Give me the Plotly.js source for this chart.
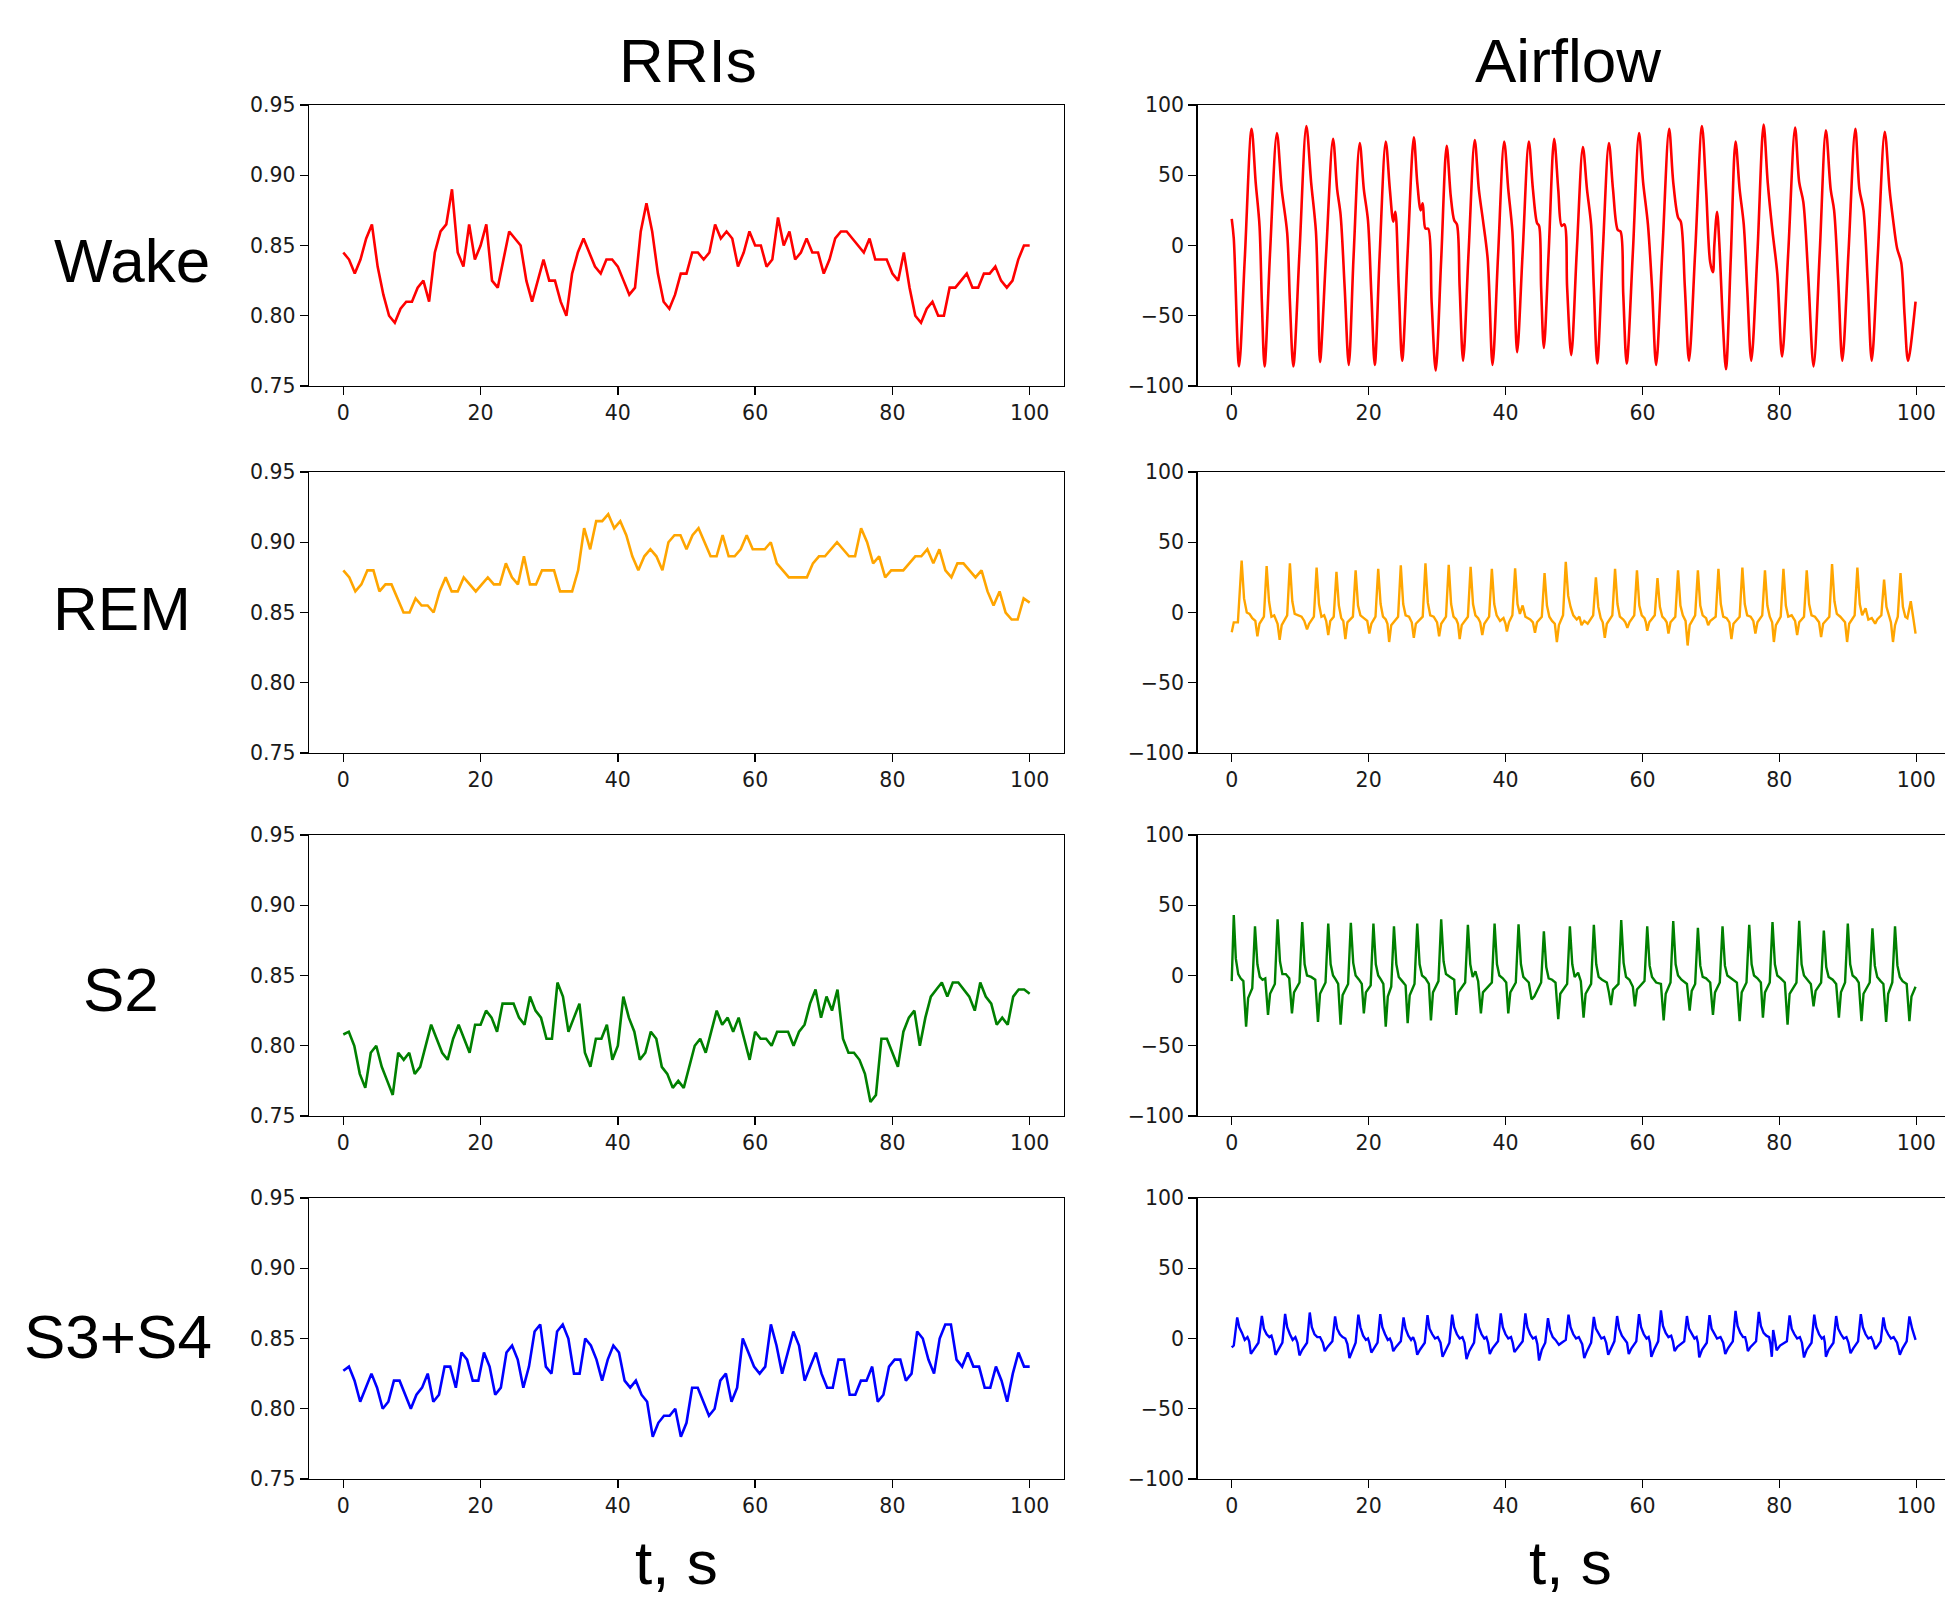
<!DOCTYPE html>
<html>
<head>
<meta charset="utf-8">
<script src="https://cdn.plot.ly/plotly-3.0.1.min.js"></script>
<style>html,body{margin:0;padding:0;background:#fff;}#chart{width:1945px;height:1597px;}</style>
</head>
<body>
<div id="chart"></div>
<script>
// ---------- DATA ----------
const stages = ["Wake", "REM", "S2", "S3+S4"];
const columnTitles = ["RRIs", "Airflow"];
const xLabel = "t, s";
const xTicks = [0, 20, 40, 60, 80, 100];
const rriTicks = [0.75, 0.80, 0.85, 0.90, 0.95];
const airTicks = [-100, -50, 0, 50, 100];

// RR intervals (s), evenly spread over 0..100 s
const rriWake = [0.845,0.84,0.83,0.84,0.855,0.865,0.835,0.815,0.80,0.795,0.805,0.81,0.81,0.82,0.825,0.81,0.845,0.86,0.865,0.89,0.845,0.835,0.865,0.84,0.85,0.865,0.825,0.82,0.84,0.86,0.855,0.85,0.825,0.81,0.825,0.84,0.825,0.825,0.81,0.80,0.83,0.845,0.855,0.845,0.835,0.83,0.84,0.84,0.835,0.825,0.815,0.82,0.86,0.88,0.86,0.83,0.81,0.805,0.815,0.83,0.83,0.845,0.845,0.84,0.845,0.865,0.855,0.86,0.855,0.835,0.845,0.86,0.85,0.85,0.835,0.84,0.87,0.85,0.86,0.84,0.845,0.855,0.845,0.845,0.83,0.84,0.855,0.86,0.86,0.855,0.85,0.845,0.855,0.84,0.84,0.84,0.83,0.825,0.845,0.82,0.80,0.795,0.805,0.81,0.80,0.80,0.82,0.82,0.825,0.83,0.82,0.82,0.83,0.83,0.835,0.825,0.82,0.825,0.84,0.85,0.85];
const rriREM = [0.88,0.875,0.865,0.87,0.88,0.88,0.865,0.87,0.87,0.86,0.85,0.85,0.86,0.855,0.855,0.85,0.865,0.875,0.865,0.865,0.875,0.87,0.865,0.87,0.875,0.87,0.87,0.885,0.875,0.87,0.89,0.87,0.87,0.88,0.88,0.88,0.865,0.865,0.865,0.88,0.91,0.895,0.915,0.915,0.92,0.91,0.915,0.905,0.89,0.88,0.89,0.895,0.89,0.88,0.90,0.905,0.905,0.895,0.905,0.91,0.90,0.89,0.89,0.905,0.89,0.89,0.895,0.905,0.895,0.895,0.895,0.90,0.885,0.88,0.875,0.875,0.875,0.875,0.885,0.89,0.89,0.895,0.90,0.895,0.89,0.89,0.91,0.90,0.885,0.89,0.875,0.88,0.88,0.88,0.885,0.89,0.89,0.895,0.885,0.895,0.88,0.875,0.885,0.885,0.88,0.875,0.88,0.865,0.855,0.865,0.85,0.845,0.845,0.86,0.857];
const rriS2 = [0.808,0.81,0.80,0.78,0.77,0.795,0.80,0.785,0.775,0.765,0.795,0.79,0.795,0.78,0.785,0.80,0.815,0.805,0.795,0.79,0.805,0.815,0.805,0.795,0.815,0.815,0.825,0.82,0.81,0.83,0.83,0.83,0.82,0.815,0.835,0.825,0.82,0.805,0.805,0.845,0.835,0.81,0.82,0.83,0.795,0.785,0.805,0.805,0.815,0.79,0.80,0.835,0.82,0.81,0.79,0.795,0.81,0.805,0.785,0.78,0.77,0.775,0.77,0.785,0.80,0.805,0.795,0.81,0.825,0.815,0.82,0.81,0.82,0.805,0.79,0.81,0.805,0.805,0.80,0.81,0.81,0.81,0.80,0.81,0.815,0.83,0.84,0.82,0.835,0.825,0.84,0.805,0.795,0.795,0.79,0.78,0.76,0.765,0.805,0.805,0.795,0.785,0.81,0.82,0.825,0.80,0.82,0.835,0.84,0.845,0.835,0.845,0.845,0.84,0.835,0.825,0.845,0.835,0.83,0.815,0.82,0.815,0.835,0.84,0.84,0.837];
const rriS34 = [0.827,0.83,0.82,0.805,0.815,0.825,0.815,0.80,0.805,0.82,0.82,0.81,0.80,0.81,0.815,0.825,0.805,0.81,0.83,0.83,0.815,0.84,0.835,0.82,0.82,0.84,0.83,0.81,0.815,0.84,0.845,0.835,0.815,0.83,0.855,0.86,0.83,0.825,0.855,0.86,0.85,0.825,0.825,0.85,0.845,0.835,0.82,0.835,0.845,0.84,0.82,0.815,0.82,0.81,0.805,0.78,0.79,0.795,0.795,0.80,0.78,0.79,0.815,0.815,0.805,0.795,0.80,0.82,0.825,0.805,0.815,0.85,0.84,0.83,0.825,0.83,0.86,0.845,0.825,0.84,0.855,0.845,0.82,0.83,0.84,0.825,0.815,0.815,0.835,0.835,0.81,0.81,0.82,0.82,0.83,0.805,0.81,0.83,0.835,0.835,0.82,0.825,0.855,0.85,0.835,0.825,0.85,0.86,0.86,0.835,0.83,0.84,0.83,0.83,0.815,0.815,0.83,0.82,0.805,0.825,0.84,0.83,0.83];

// Airflow (time s, amplitude)
const airWakeT = [0,0.3,1.07,1.9,2.9,3.5,4.06,4.4,4.8,5.6,6.6,7.3,8.1,8.5,9.0,9.9,10.9,11.6,12.3,12.6,12.9,13.8,14.8,15.4,15.9,16.5,17.1,17.8,18.7,19.3,19.9,20.4,20.9,21.6,22.5,23.1,23.6,23.9,24.4,24.9,25.7,26.6,27.1,27.6,27.9,28.3,28.7,29.2,29.8,30.6,31.4,32.0,32.5,32.9,33.3,33.8,34.6,35.5,36.1,36.7,37.4,38.1,38.9,39.8,40.4,41.0,41.3,41.7,42.5,43.4,44.0,44.6,44.9,45.2,45.6,46.3,47.1,47.7,48.2,48.6,49.0,49.6,50.4,51.3,51.9,52.5,52.9,53.4,54.2,55.1,55.7,56.4,56.8,57.2,57.7,58.6,59.5,60.1,60.8,61.4,62.0,62.9,63.9,64.5,65.2,65.6,66.2,66.8,67.7,68.7,69.3,69.9,70.3,70.5,70.9,71.3,71.7,72.2,72.9,73.6,74.2,74.8,75.3,75.9,76.8,77.7,78.3,79.0,79.7,80.4,81.3,82.3,82.9,83.5,84.2,85.0,85.9,86.8,87.5,88.0,88.6,89.2,90.1,91.1,91.7,92.3,92.9,93.5,94.4,95.4,96.1,96.6,97.2,97.8,98.3,98.8,99.9];
const airWakeV = [19,5,-86,-10,83,45,14,-40,-86,-5,80,40,9,-40,-86,-5,85,45,10,-35,-83,-5,76,40,22,-30,-85,-8,73,40,18,-35,-85,-8,74,40,17,24,-30,-82,-5,77,45,25,30,12,12,-40,-89,-10,71,35,18,15,-30,-82,-5,75,40,18,-10,-85,-8,74,40,10,-30,-76,-5,74,40,16,14,-30,-73,-5,76,40,14,15,-30,-78,-5,70,40,15,-30,-84,-5,73,40,11,10,-35,-84,-5,80,45,15,-30,-85,-5,83,45,20,17,-30,-82,-5,85,40,-12,-19,0,24,-5,-50,-88,-10,74,40,15,-30,-82,-5,86,45,10,-20,-79,-5,84,45,31,-20,-86,-5,82,40,25,-25,-82,-5,83,40,25,-25,-82,-5,81,40,19,-2,-12,-50,-82,-40];

const airREMT = [0,0.3,0.9,1.45,1.8,2.2,2.6,3.0,3.45,3.75,4.05,4.7,5.1,5.45,5.8,6.2,6.7,7.0,7.3,8.1,8.5,8.85,9.2,9.7,10.2,10.6,11.0,11.3,12.0,12.4,12.75,13.1,13.5,13.8,14.1,14.4,14.9,15.3,15.65,16.0,16.3,16.6,16.9,17.7,18.1,18.45,18.8,19.3,19.8,20.1,20.4,21.0,21.4,21.75,22.1,22.5,22.75,23.0,23.3,24.3,24.7,25.05,25.4,25.9,26.3,26.6,26.9,27.9,28.3,28.65,29.0,29.5,30.0,30.3,30.6,31.3,31.7,32.05,32.4,32.8,33.05,33.3,33.6,34.5,34.9,35.25,35.6,36.0,36.3,36.6,36.9,37.6,38.0,38.35,38.7,39.2,39.7,40.0,40.2,40.5,41.0,41.4,41.75,42.1,42.5,42.9,43.6,44.0,44.3,44.6,45.3,45.7,46.05,46.4,46.8,47.2,47.5,47.8,48.4,48.8,49.15,49.5,49.9,50.4,50.8,51.1,51.5,52.0,52.8,53.2,53.55,53.9,54.2,54.5,54.8,55.6,56.0,56.35,56.7,57.2,57.5,57.8,58.1,58.8,59.2,59.55,59.9,60.3,60.5,60.7,61.0,61.8,62.2,62.55,62.9,63.3,63.55,63.8,64.1,64.8,65.2,65.55,65.9,66.3,66.6,66.9,67.7,68.1,68.45,68.8,69.3,69.6,69.9,70.7,71.1,71.45,71.8,72.3,72.7,73.0,73.3,74.2,74.6,74.95,75.3,75.8,76.2,76.5,76.8,77.5,77.9,78.25,78.6,78.95,79.2,79.5,80.2,80.6,80.95,81.3,81.8,82.3,82.6,82.9,83.6,84.0,84.35,84.7,85.2,85.8,86.1,86.4,87.3,87.7,88.05,88.4,88.9,89.6,89.9,90.2,91.0,91.4,91.75,92.1,92.6,93.0,93.5,94.0,94.3,94.9,95.3,95.65,96.0,96.3,96.6,96.9,97.3,97.7,98.05,98.4,98.7,99.2,99.6,99.9];
const airREMV = [-14,-7,-7,37,10,0,-1,-4,-6,-17,-8,-3,33,8,-3,-2,-8,-19.5,-9,-2,35,8,-1,-2,-3,-6,-12,-8,-3,32,6,-3,-2,-6,-16,-6,-3,29,5,-4,-6,-19,-7,-3,30,5,-2,-4,-6,-15,-8,-3,31,6,-3,-5,-8,-21,-9,-3,33.5,6,-2,-3,-7,-18,-8,-3,35,7,-2,-3,-7,-17,-8,-3,34,6,-3,-5,-8,-19,-9,-3,32.5,6,-2,-4,-7,-16,-8,-3,31,6,-2,-6,-4,-8,-13.5,-7,-2,31.5,6,-1,5,-3,-5,-7,-14.5,-7,-3,28,5,-3,-6,-8,-21,-9,-2,36,12,4,-2,-5,-3,-9,-6,-8,-2,25,4,-4,-7,-18,-8,-2,31,6,-3,-5,-7,-11,-7,-2,30,5,-2,-4,-7,-13,-7,-2,24.5,4,-3,-5,-7,-15,-7,-3,30,5,-2,-6,-23.5,-9,-2,30,5,-2,-4,-9,-6,-3,31,6,-3,-4,-7,-19,-8,-3,32,6,-2,-3,-6,-15,-7,-2,30,5,-3,-7,-21,-9,-3,31,5,-3,-2,-6,-16,-7,-3,30,6,-2,-3,-7,-17.5,-8,-3,34.5,8,-1,-3,-7,-21,-8,-2,32,6,-2,3,-5,-4,-8,-5,-2,23.5,4,-3,-7,-21,-9,-3,28,4,-3,-4,8,-5,-15];

const airS2T = [0,0.3,0.6,0.95,1.3,1.7,2.1,2.4,3.0,3.4,3.75,4.1,4.5,4.9,5.3,5.6,6.3,6.7,7.05,7.4,7.9,8.4,8.8,9.1,9.9,10.3,10.65,11.0,11.6,12.2,12.6,12.9,13.7,14.1,14.45,14.8,15.2,15.55,15.9,16.2,17.0,17.4,17.75,18.1,18.6,19.0,19.3,19.6,20.3,20.7,21.05,21.4,21.8,22.15,22.5,22.8,23.3,23.7,24.05,24.4,24.9,25.4,25.7,26.0,26.7,27.1,27.45,27.8,28.3,28.8,29.1,29.4,30.2,30.6,30.95,31.3,31.9,32.5,32.8,33.1,34.1,34.5,34.85,35.2,35.6,36.0,36.4,36.7,38.0,38.4,38.75,39.1,39.6,40.1,40.4,40.7,41.5,41.9,42.25,42.6,43.0,43.4,43.8,44.2,45.2,45.6,45.95,46.3,46.8,47.3,47.7,48.0,49.0,49.4,49.75,50.1,50.6,51.0,51.4,51.7,52.5,52.9,53.25,53.6,54.1,54.8,55.1,55.4,55.7,56.5,56.9,57.25,57.6,58.1,58.6,58.9,59.2,60.3,60.7,61.05,61.4,62.0,62.7,63.1,63.4,64.1,64.5,64.85,65.2,65.7,66.5,66.9,67.2,67.7,68.1,68.45,68.8,69.3,69.9,70.3,70.6,71.3,71.7,72.05,72.4,72.9,73.8,74.2,74.5,75.2,75.6,75.95,76.3,76.8,77.3,77.6,77.9,78.6,79.0,79.35,79.7,80.2,80.8,81.2,81.5,82.5,82.9,83.25,83.6,84.1,84.6,85.0,85.3,86.1,86.5,86.85,87.2,87.8,88.3,88.7,89.0,89.6,90.0,90.35,90.7,91.2,91.6,92.0,92.3,93.2,93.6,93.95,94.3,94.8,95.2,95.6,95.9,96.5,96.9,97.25,97.6,98.0,98.6,99.0,99.3,99.9];
const airS2V = [-4,43,12,1,-2,-4,-36.5,-16,-9,35,8,-1,-3,-2,-28,-13,-6,40,10,1,1,-2,-27,-12,-5,38,8,0,-1,-3,-33,-13,-5,37,8,0,-3,-6,-35,-14,-6,37.5,9,0,-3,-6,-27,-12,-7,37,8,0,-3,-6,-36.5,-15,-8,35,8,-1,-4,-7,-34,-14,-6,37,8,0,-2,-6,-32,-12,-4,40,10,1,-1,-3,-28,-12,-5,36,8,-1,3,-4,-27,-12,-5,37,8,0,-2,-5,-27,-12,-5,36.5,8,-1,-3,-5,-17,-15,-5,31.5,6,-2,-3,-5,-31,-13,-6,35,8,-1,2,-4,-30,-13,-6,36,8,-1,-3,-5,-12,-21,-10,-6,39.5,9,-1,-3,-8,-22,-10,-4,35,7,-1,-5,-6,-32,-13,-5,38.7,8,0,-3,-6,-25,-11,-6,34,7,-1,-2,-5,-28,-12,-5,35,7,0,-2,-5,-32.5,-12,-5,36,8,0,-2,-5,-30,-12,-5,38,8,0,-2,-5,-35,-13,-5,39,8,0,-3,-6,-22,-11,-5,32,6,-1,-3,-6,-30,-12,-5,37,8,0,-2,-5,-32.5,-13,-5,33.5,7,-1,-4,-6,-33,-13,-5,35,7,-1,-4,-6,-32.5,-15,-8];

const airS34T = [0,0.3,0.8,1.1,1.5,1.9,2.3,2.55,2.8,3.2,3.9,4.4,4.7,5.1,5.5,5.8,6.1,6.4,6.8,7.4,7.8,8.1,8.5,8.9,9.3,9.6,9.9,10.3,11.0,11.4,11.7,12.1,12.5,12.9,13.3,13.6,14.0,14.7,15.1,15.4,15.8,16.2,16.6,16.9,17.2,17.6,18.1,18.5,18.8,19.2,19.6,19.9,20.1,20.4,20.8,21.3,21.7,22.0,22.4,22.8,23.1,23.35,23.6,24.0,24.7,25.1,25.4,25.8,26.2,26.5,26.8,27.1,27.5,28.2,28.6,28.9,29.3,29.7,30.1,30.5,30.8,31.2,31.8,32.2,32.5,32.9,33.3,33.7,34.0,34.3,34.7,35.4,35.8,36.1,36.5,36.9,37.2,37.45,37.7,38.1,38.9,39.3,39.6,40.0,40.4,40.8,41.05,41.3,41.7,42.5,42.9,43.2,43.6,44.0,44.4,44.65,44.9,45.3,45.8,46.2,46.5,46.9,47.3,47.8,48.2,48.8,49.2,49.5,49.9,50.3,50.7,51.2,51.5,51.9,52.5,52.9,53.2,53.6,54.0,54.4,54.7,55.0,55.4,55.9,56.3,56.6,57.0,57.4,57.75,58.0,58.4,59.1,59.5,59.8,60.2,60.6,60.9,61.1,61.3,61.7,62.3,62.7,63.0,63.4,63.8,64.2,64.45,64.7,65.1,66.1,66.5,66.8,67.2,67.6,67.9,68.1,68.3,68.7,69.4,69.8,70.1,70.5,70.9,71.4,71.8,72.1,72.5,73.2,73.6,73.9,74.3,74.7,75.0,75.2,75.4,75.8,76.6,77.0,77.3,77.7,78.1,78.5,78.7,78.9,79.1,79.4,79.6,80.1,81.1,81.5,81.8,82.2,82.6,83.0,83.3,83.6,84.0,84.7,85.1,85.4,85.8,86.2,86.5,86.65,86.8,87.2,87.9,88.3,88.6,89.0,89.4,89.8,90.1,90.4,90.8,91.5,91.9,92.2,92.6,93.0,93.4,93.7,94.0,94.4,94.8,95.2,95.5,95.9,96.3,96.7,97.2,97.6,98.0,98.6,99.0,99.4,99.9];
const airS34V = [-6.4,-5,15,8,4,-1,1,-2,-11,-8,-3,16,7,3,1,2,-3,-11.6,-8,-3,17.5,8,3,-1,1,-3,-12,-8,-3,18.5,8,3,1,1,-3,-9,-6,-2,15.7,7,3,1,0,-4,-14,-9,-3,17,8,2,-1,0,-3,-10,-7,-3,17.3,8,3,-1,0,-3,-9,-6,-2,15,7,2,-1,1,-3,-11.6,-8,-3,16.6,7,3,0,1,-3,-13,-9,-3,17,8,3,0,1,-3,-14.7,-9,-3,17.6,8,3,0,1,-3,-11,-7,-2,17.8,8,3,0,1,-3,-9.7,-7,-2,17.8,8,3,0,1,-4,-15.7,-8,-3,14.5,6,1,-1,-4.5,-3,-1,17,8,3,0,1,-4,-14,-9,-3,15.4,7,3,0,1,-3,-11.6,-7,-2,16,7,2,-1,-3,-11,-7,-2,17.3,8,3,0,1,-3,-13,-8,-2,20,9,4,1,2,-2,-9,-6,-2,16,7,3,0,1,-3,-13.5,-8,-3,16.6,7,3,0,1,-3,-11,-7,-2,19.7,9,4,1,1,-3,-9,-6,-2,19,9,4,2,1,-4,-13,6,-2,-8.5,-5,-2,16.4,7,3,0,1,-3,-13.5,-8,-3,17,8,3,0,1,-3,-13,-8,-3,16,7,3,0,1,-3,-10.5,-7,-2,17.3,8,3,0,1,-2,-7.4,-5,-2,15,7,3,0,1,-3,-11.6,-7,-2,15.7,7,-1];

const colors = ["#ff0000", "#ffa500", "#008000", "#0000ff"];
const rriSeries = [rriWake, rriREM, rriS2, rriS34];
const airSeriesT = [airWakeT, airREMT, airS2T, airS34T];
const airSeriesV = [airWakeV, airREMV, airS2V, airS34V];

// ---------- LAYOUT ----------
const W = 1945, H = 1597;
const px = x => x / W;
const py = y => 1 - y / H;
const leftDom = [px(309), px(1064)];
const rightDom = [px(1197.5), 1];
const rowPix = [[105, 386], [472, 753], [835, 1116], [1198, 1479]];

const tickFont = {family: "DejaVu Sans, sans-serif", size: 20.5, color: "#1a1a1a"};
const axisCommon = {
  showline: true, linecolor: "#000", linewidth: 1.3,
  ticks: "outside", ticklen: 8, tickwidth: 1.3, tickcolor: "#000",
  showgrid: false, zeroline: false, tickfont: tickFont, fixedrange: true
};

const data = [];
const layout = {
  width: W, height: H,
  margin: {l: 0, r: 0, t: 0, b: 0},
  paper_bgcolor: "#fff", plot_bgcolor: "#fff",
  showlegend: false,
  annotations: []
};

for (let r = 0; r < 4; r++) {
  const yd = [py(rowPix[r][1]), py(rowPix[r][0])];
  const iL = 2 * r + 1, iR = 2 * r + 2;
  const sL = iL === 1 ? "" : String(iL);
  const sR = String(iR);
  // RRI
  const vals = rriSeries[r];
  const n = vals.length;
  data.push({
    type: "scatter", mode: "lines",
    x: vals.map((_, i) => i * 100 / (n - 1)), y: vals,
    xaxis: "x" + sL, yaxis: "y" + sL,
    line: {color: colors[r], width: 2.6}, hoverinfo: "skip"
  });
  // Airflow
  data.push({
    type: "scatter", mode: "lines",
    x: airSeriesT[r], y: airSeriesV[r],
    xaxis: "x" + sR, yaxis: "y" + sR,
    line: r === 0 ? {color: colors[r], width: 2.6, shape: "spline", smoothing: 0.9}
                  : {color: colors[r], width: 2.4},
    hoverinfo: "skip"
  });
  layout["xaxis" + sL] = Object.assign({}, axisCommon, {
    domain: leftDom, range: [-5, 105], tickvals: xTicks, mirror: true, anchor: "y" + sL
  });
  layout["yaxis" + sL] = Object.assign({}, axisCommon, {
    domain: yd, range: [0.75, 0.95], tickvals: rriTicks, tickformat: ".2f", mirror: true, anchor: "x" + sL
  });
  layout["xaxis" + sR] = Object.assign({}, axisCommon, {
    domain: rightDom, range: [-5, 104.2], tickvals: xTicks, mirror: true, anchor: "y" + sR
  });
  layout["yaxis" + sR] = Object.assign({}, axisCommon, {
    domain: yd, range: [-100, 100], tickvals: airTicks, mirror: false, anchor: "x" + sR
  });
}

const bigFont = {family: "Liberation Sans, Arial, sans-serif", size: 62, color: "#000"};
function addText(text, x, y) {
  layout.annotations.push({
    text: text, xref: "paper", yref: "paper", x: px(x), y: py(y),
    xanchor: "center", yanchor: "middle", showarrow: false, font: bigFont
  });
}
addText(columnTitles[0], 688, 61);
addText(columnTitles[1], 1568, 61);
const rowLabelPos = [[132, 261], [122, 608], [121, 989], [118, 1336]];
stages.forEach((s, i) => addText(s, rowLabelPos[i][0], rowLabelPos[i][1]));
addText(xLabel, 676, 1562);
addText(xLabel, 1570, 1562);

Plotly.newPlot("chart", data, layout, {staticPlot: true, displayModeBar: false});
</script>
</body>
</html>
